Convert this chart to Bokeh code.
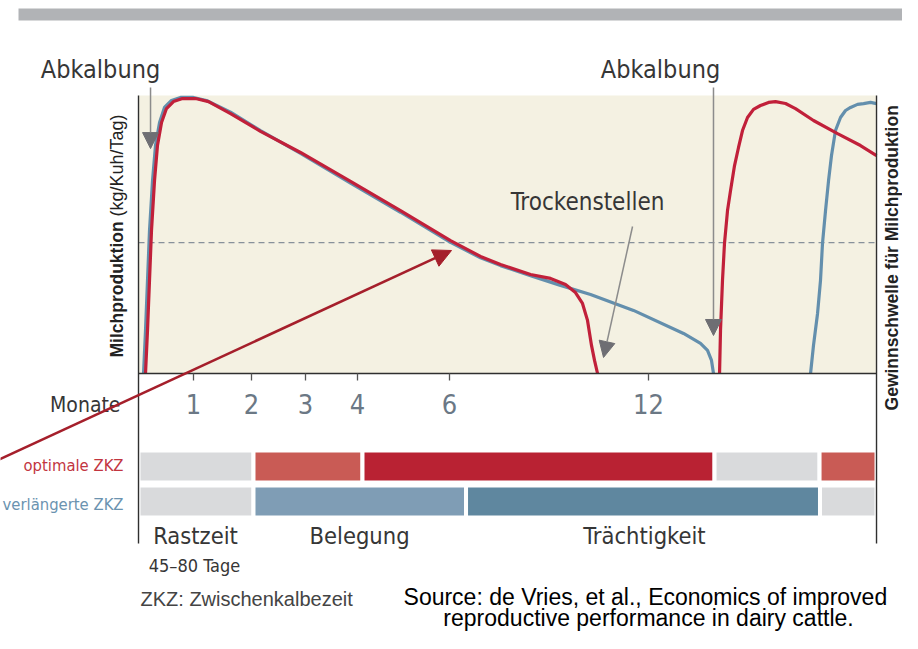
import math
from bokeh.plotting import figure
from bokeh.models import Range1d, LinearAxis, FixedTicker, Arrow, NormalHead
from bokeh.core.properties import value
from bokeh.embed import file_html
from bokeh.resources import INLINE

# x: schematic time axis (0 = Abkalbung, 100 = right edge of panel)
# y: relative milk production (0 = baseline, 100 = top of panel)
month_ticks = [7.45, 15.31, 22.63, 29.67, 42.14, 69.11]
month_labels = ["1", "2", "3", "4", "6", "12"]

threshold = 47.1  # Gewinnschwelle

# optimale ZKZ, first lactation
opt1_x = [0.95, 1.22, 1.49, 1.76, 2.17, 2.57, 3.12, 3.79, 4.74, 5.96, 7.72, 9.49, 12.47,
          16.53, 21.95, 28.73, 35.50, 42.28, 46.34, 49.05, 53.12, 55.83, 57.86, 59.21,
          60.16, 60.84, 61.38, 61.79, 62.20]
opt1_y = [0.0, 15.5, 33.5, 51.4, 69.4, 82.0, 90.3, 95.3, 97.8, 98.9, 98.9, 97.8, 93.5,
          87.1, 79.5, 69.1, 58.6, 47.8, 42.1, 39.2, 35.6, 34.2, 32.0, 29.1,
          25.2, 19.1, 10.1, 4.7, 0.0]
# optimale ZKZ, second lactation
opt2_x = [78.73, 78.86, 79.13, 79.40, 79.81, 80.22, 80.76, 81.30, 81.84, 82.52, 83.33,
          84.28, 85.37, 86.31, 87.67, 89.02, 91.46, 94.72, 97.83, 100.0]
opt2_y = [0.0, 15.5, 33.5, 46.8, 58.6, 65.8, 74.8, 81.3, 87.4, 92.1, 95.0,
          96.4, 97.5, 97.8, 97.1, 95.3, 91.0, 86.3, 82.0, 78.4]
# verlängerte ZKZ, first lactation
ext1_x = [0.68, 0.95, 1.22, 1.49, 1.90, 2.30, 2.85, 3.52, 4.47, 5.69, 7.45, 9.21, 12.47,
          16.53, 21.95, 28.73, 35.50, 42.28, 46.34, 49.05, 53.12, 57.18, 61.25, 67.07,
          73.85, 76.15, 77.10, 77.64, 77.91]
ext1_y = [0.0, 15.5, 33.5, 51.4, 69.4, 82.0, 90.3, 95.7, 98.2, 99.3, 99.3, 98.2, 94.0,
          87.4, 79.2, 68.5, 58.0, 47.2, 41.6, 38.8, 35.2, 31.7, 28.4, 22.7,
          14.4, 10.8, 8.3, 4.7, 0.0]
# verlängerte ZKZ, second lactation
ext2_x = [91.06, 91.46, 92.01, 92.41, 92.68, 93.09, 93.50, 93.90, 94.44, 95.12, 95.80,
          96.48, 97.43, 98.24, 99.19, 100.0]
ext2_y = [0.0, 10.1, 21.6, 33.5, 46.8, 58.6, 69.4, 78.4, 87.4, 92.1, 94.6,
          95.7, 96.8, 97.1, 97.5, 97.1]

# phase bars
opt_left = [0.0, 15.58, 30.35, 78.05, 92.28]
opt_right = [15.58, 30.35, 78.05, 92.28, 100.0]
opt_colors = ["#d9dadc", "#c95b55", "#b92233", "#d9dadc", "#c95b55"]
ext_left = [0.0, 15.58, 44.38, 92.34]
ext_right = [15.58, 44.38, 92.34, 100.0]
ext_colors = ["#d9dadc", "#7f9db5", "#5f879f", "#d9dadc"]
row_opt = -33.45
row_ext = -46.04

NARROW = "DejaVu Sans Condensed, DejaVu Sans, sans-serif"
ARIAL = "Liberation Sans, Arial, sans-serif"
DARK = "#363636"
RED = "#c1203a"
BLUE = "#638fad"

p = figure(width=902, height=633, x_range=Range1d(-18.70, 103.52),
           y_range=Range1d(-93.53, 134.17), x_axis_type=None, y_axis_type=None,
           toolbar_location=None, output_backend="svg", min_border=0,
           outline_line_color=None, background_fill_color="white")
p.grid.visible = False

# top grey band
p.quad(left=[-16.26], right=[103.93], bottom=[126.98], top=[131.29],
       fill_color="#b1b3b6", line_color=None)

# panel background
p.quad(left=[0], right=[100], bottom=[0], top=[100], fill_color="#f4f1e2", line_color=None)

# break-even dashed line
p.segment(x0=[0], y0=[threshold], x1=[100], y1=[threshold], line_color="#87919a",
          line_width=1.3, line_dash="6 4")

# curves
p.line(ext1_x, ext1_y, line_color=BLUE, line_width=3.2)
p.line(ext2_x, ext2_y, line_color=BLUE, line_width=3.2)
p.line(opt1_x, opt1_y, line_color=RED, line_width=3.2)
p.line(opt2_x, opt2_y, line_color=RED, line_width=3.2)

# bars
p.hbar(y=[row_opt] * len(opt_left), left=opt_left, right=opt_right, height=11.5,
       fill_color=opt_colors, line_color="white", line_width=4)
p.hbar(y=[row_ext] * len(ext_left), left=ext_left, right=ext_right, height=11.5,
       fill_color=ext_colors, line_color="white", line_width=4)

# frame lines
p.segment(x0=[0, 100, 0], y0=[100, 100, 0], x1=[0, 100, 100], y1=[-61.15, -61.15, 0],
          line_color="#2f2f2f", line_width=1.4)

xax = LinearAxis(fixed_location=0, ticker=FixedTicker(ticks=month_ticks),
                 major_label_overrides={t: l for t, l in zip(month_ticks, month_labels)},
                 axis_line_color=None, major_tick_in=0, major_tick_out=7,
                 major_tick_line_color="#555555", major_tick_line_width=1.3,
                 minor_tick_line_color=None, major_label_standoff=14,
                 major_label_text_font=NARROW, major_label_text_font_size="27px",
                 major_label_text_color="#6b7885")
p.add_layout(xax, "below")


def label(x, y, txt, size, color=DARK, align="center", font=NARROW, style="normal",
          angle=0.0):
    p.text(x=[x], y=[y], text=[txt], text_font=value(font), text_font_size=size,
           text_color=color, text_align=align, text_baseline="alphabetic",
           text_font_style=style, angle=angle)


label(-5.15, 109.17, "Abkalbung", "25px")
label(70.73, 109.17, "Abkalbung", "25px")
label(60.84, 61.51, "Trockenstellen", "24px")
label(-2.44, -11.51, "Monate", "21px", align="right")
label(-2.03, -33.09, "optimale ZKZ", "16.5px", color="#c2353f", align="right")
label(-2.03, -47.12, "verlängerte ZKZ", "16.5px", color="#6b93b0", align="right")
label(7.72, -58.45, "Rastzeit", "23.5px")
label(7.59, -69.06, "45–80 Tage", "18px")
label(29.95, -58.45, "Belegung", "23.5px")
label(68.56, -58.45, "Trächtigkeit", "23.5px")
label(0.27, -81.29, "ZKZ: Zwischenkalbezeit", "20px", color="#444444", align="left", font=ARIAL)
label(69.11, -80.40, "Source:  de Vries, et al., Economics of improved", "23px",
      color="black", font=ARIAL)
label(69.11, -88.13, "reproductive performance in dairy cattle.", "23px", color="black",
      font=ARIAL)
label(-2.85, 5.76, "Milchproduktion", "17.5px", color="#222222", align="left",
      style="bold", angle=math.pi / 2, font=ARIAL)
label(-2.85, 56.47, "(kg/Kuh/Tag)", "18px", color="#222222", align="left",
      angle=math.pi / 2, font=ARIAL)
label(102.03, -13.3, "Gewinnschwelle für Milchproduktion", "17.5px", color="#222222",
      align="left", style="bold", angle=math.pi / 2, font=ARIAL)

# arrows
GREY_HEAD = dict(size=16, fill_color="#6e6e73", line_color="#6e6e73")
p.add_layout(Arrow(end=NormalHead(**GREY_HEAD), x_start=1.63, y_start=102.9,
                   x_end=1.63, y_end=80.9, line_color="#8c8c8c", line_width=1.5))
p.add_layout(Arrow(end=NormalHead(**GREY_HEAD), x_start=77.91, y_start=102.9,
                   x_end=77.91, y_end=13.67, line_color="#8c8c8c", line_width=1.5))
p.add_layout(Arrow(end=NormalHead(**GREY_HEAD), x_start=66.94, y_start=52.88,
                   x_end=63.01, y_end=5.76, line_color="#8c8c8c", line_width=1.5))
p.add_layout(Arrow(end=NormalHead(size=18, fill_color="#a51f2b", line_color="#a51f2b"),
                   x_start=-20.05, y_start=-32.37, x_end=42.41, y_end=44.24,
                   line_color="#a51f2b", line_width=2.5))

open("out.html", "w").write(file_html(p, INLINE))
